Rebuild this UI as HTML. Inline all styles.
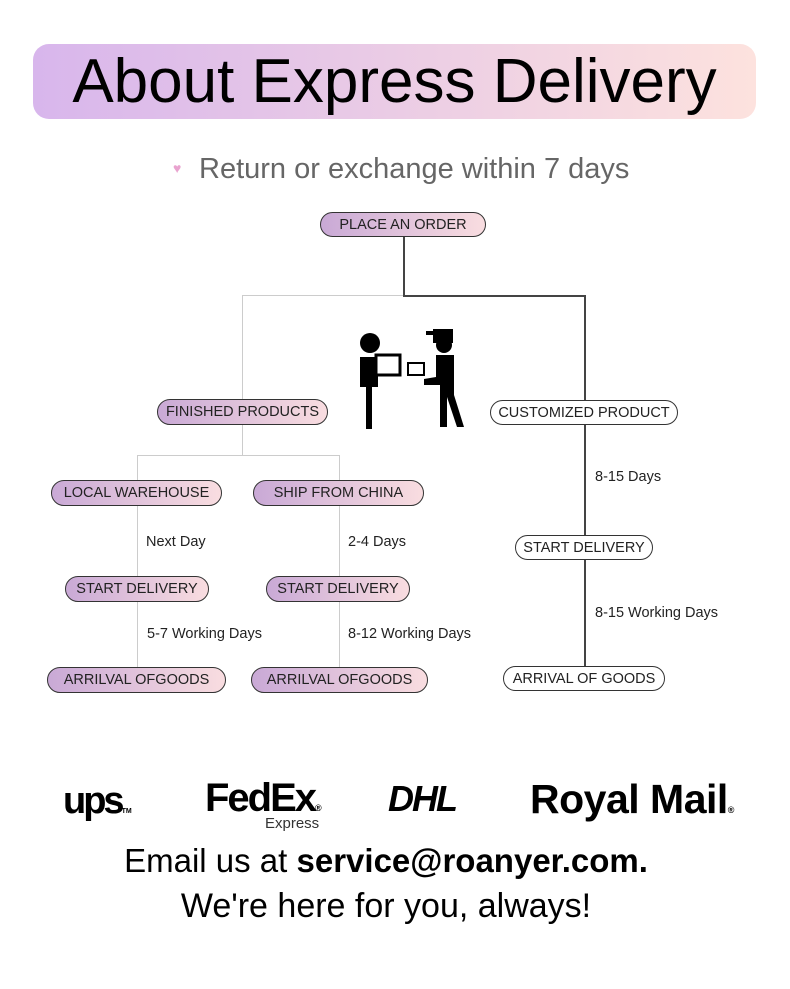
<!DOCTYPE html>
<html><head><meta charset="utf-8"><style>
body{margin:0;width:790px;height:989px;background:#fff;position:relative;overflow:hidden;font-family:"Liberation Sans","DejaVu Sans",sans-serif}
.a{position:absolute}
.p{position:absolute;box-sizing:border-box;border:1.5px solid #333;border-radius:14px;background:linear-gradient(90deg,#c9a9d6,#f9dde0);font-size:14.5px;color:#222;display:flex;align-items:center;justify-content:center;white-space:nowrap}
.w{background:#fff}
.l{position:absolute;background:#ccc}
.d{position:absolute;background:#444}
.t{position:absolute;font-size:14.5px;color:#222}
</style></head><body>
<div class="a" style="left:33px;top:44px;width:723px;height:75px;border-radius:16px;background:linear-gradient(90deg,#d8b6ec,#fde2de)"></div>
<div class="a" style="left:33px;top:44px;width:723px;height:75px;display:flex;align-items:center;justify-content:center;font-size:62px;color:#000">About Express Delivery</div>
<div class="a" style="left:173px;top:160px;font-size:14px;color:#e9a3cf">♥</div>
<div class="a" style="left:199px;top:153px;font-size:29px;color:#666">Return or exchange within 7 days</div>

<div class="d" style="left:403px;top:237px;width:1.5px;height:58px"></div>
<div class="l" style="left:242px;top:295px;width:161px;height:1px"></div>
<div class="d" style="left:403px;top:295px;width:182px;height:1.5px"></div>
<div class="l" style="left:242px;top:295px;width:1px;height:160px"></div>
<div class="d" style="left:584px;top:295px;width:1.5px;height:371px"></div>
<div class="l" style="left:137px;top:455px;width:203px;height:1px"></div>
<div class="l" style="left:137px;top:455px;width:1px;height:212px"></div>
<div class="l" style="left:339px;top:455px;width:1px;height:212px"></div>

<svg class="a" style="left:338px;top:315px" width="140" height="125" viewBox="0 0 140 125">
<circle cx="32" cy="28" r="10" fill="#000"/>
<path d="M22 42h18v30h-6v42h-6v-42h-6z" fill="#000"/>
<rect x="38" y="40" width="24" height="20" fill="#fff" stroke="#000" stroke-width="3"/>
<rect x="70" y="48" width="16" height="12" fill="#fff" stroke="#000" stroke-width="2"/>
<path d="M95 14h20v14h-20zM88 16h8v4h-8z" fill="#000"/>
<circle cx="106" cy="30" r="8" fill="#000"/>
<path d="M98 40h18v40l10 32h-7l-10-30v30h-7v-42l-16 0v-6l12-2z" fill="#000"/>
</svg>

<div class="p" style="left:320px;top:212px;width:166px;height:25px">PLACE AN ORDER</div>
<div class="p" style="left:157px;top:399px;width:171px;height:26px">FINISHED PRODUCTS</div>
<div class="p w" style="left:490px;top:400px;width:188px;height:25px">CUSTOMIZED PRODUCT</div>
<div class="p" style="left:51px;top:480px;width:171px;height:26px">LOCAL WAREHOUSE</div>
<div class="p" style="left:253px;top:480px;width:171px;height:26px">SHIP FROM CHINA</div>
<div class="p" style="left:65px;top:576px;width:144px;height:26px">START DELIVERY</div>
<div class="p" style="left:266px;top:576px;width:144px;height:26px">START DELIVERY</div>
<div class="p" style="left:47px;top:667px;width:179px;height:26px">ARRILVAL OFGOODS</div>
<div class="p" style="left:251px;top:667px;width:177px;height:26px">ARRILVAL OFGOODS</div>
<div class="p w" style="left:515px;top:535px;width:138px;height:25px">START DELIVERY</div>
<div class="p w" style="left:503px;top:666px;width:162px;height:25px">ARRIVAL OF GOODS</div>

<div class="t" style="left:146px;top:534px">Next Day</div>
<div class="t" style="left:348px;top:534px">2-4 Days</div>
<div class="t" style="left:147px;top:626px">5-7 Working Days</div>
<div class="t" style="left:348px;top:626px">8-12 Working Days</div>
<div class="t" style="left:595px;top:469px">8-15 Days</div>
<div class="t" style="left:595px;top:605px">8-15 Working Days</div>

<div class="a" style="left:63px;top:780px;font-size:38px;font-weight:bold;letter-spacing:-3px">ups<span style="font-size:7px;letter-spacing:0">TM</span></div>
<div class="a" style="left:205px;top:776px;font-size:40px;font-weight:bold;letter-spacing:-2px">FedEx<span style="font-size:9px;letter-spacing:0">®</span></div>
<div class="a" style="left:265px;top:815px;font-size:15px;color:#333">Express</div>
<div class="a" style="left:388px;top:778px;font-size:36px;font-weight:bold;font-style:italic;letter-spacing:-2px">DHL</div>
<div class="a" style="left:530px;top:776px;font-size:41px;font-weight:bold;letter-spacing:-0.5px">Royal Mail<span style="font-size:9px;letter-spacing:0">®</span></div>

<div class="a" style="left:-9px;top:842px;width:790px;text-align:center;font-size:33px;color:#000">Email us at <b>service@roanyer.com.</b></div>
<div class="a" style="left:-9px;top:887px;width:790px;text-align:center;font-size:34px;color:#000">We're here for you, always!</div>
</body></html>
